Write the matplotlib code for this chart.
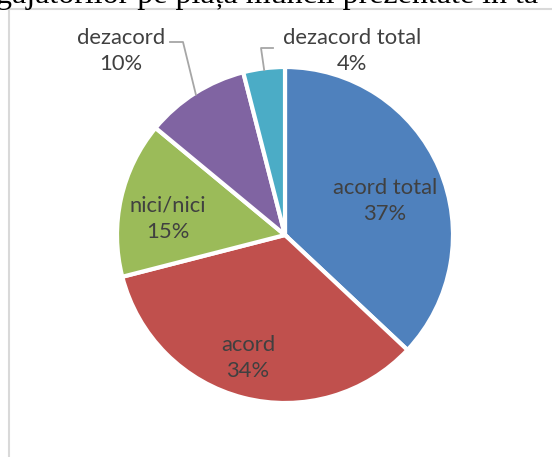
import numpy as np
import matplotlib.pyplot as plt
from matplotlib.patches import Rectangle

# data
categories = ['acord total', 'acord', 'nici/nici', 'dezacord', 'dezacord total']
shares = [37, 34, 15, 10, 4]
colors = ['#4F81BD', '#C0504D', '#9BBB59', '#8064A2', '#4BACC6']
caption = 'gajatorilor pe piața muncii prezentate în ta'

W, H = 552, 457
fig = plt.figure(figsize=(W / 100, H / 100), dpi=100)
ax = fig.add_axes([0, 0, 1, 1])
ax.set_xlim(0, W)
ax.set_ylim(0, H)
ax.set_aspect('equal')
ax.axis('off')

cx, cy, R = 285, H - 235, 168

# chart frame (only left and top edges show)
ax.add_patch(Rectangle((9, -20), W + 40, H - 9 + 20, fill=False,
                       edgecolor='#d9d9d9', lw=1.5, zorder=0))

wedges, _ = ax.pie(shares, colors=colors, startangle=90, counterclock=False,
                   center=(cx, cy), radius=R,
                   wedgeprops=dict(edgecolor='white', linewidth=3))
ax.set_xlim(0, W)
ax.set_ylim(0, H)

font = ['Lato', 'DejaVu Sans']
tcol = '#404040'
fs = 15.8

# label centres, pixels from top-left
label_pos = [(385, 201), (248, 358), (168, 219), (121, 51), (352, 51)]
for i, (lx, ly) in enumerate(label_pos):
    ax.text(lx, H - ly, f'{categories[i]}\n{shares[i]}%', ha='center', va='center',
            fontsize=fs, color=tcol, family=font, linespacing=1.4)

# leader lines for the two small slices
def edge_point(w, k=1.0):
    ang = np.deg2rad((w.theta1 + w.theta2) / 2)
    return cx + k * R * np.cos(ang), cy + k * R * np.sin(ang)

ex, ey = edge_point(wedges[3], 0.99)
ax.plot([170, 183, ex], [H - 42, H - 42, ey], color='#a6a6a6', lw=1.3)

ex, ey = edge_point(wedges[4], 0.99)
ax.plot([273, 261, ex], [H - 48, H - 48, ey], color='#a6a6a6', lw=1.3)

# clipped caption line from the surrounding document
fig.text(-4 / W, 1 - 2.5 / H, caption, ha='left', va='baseline',
         fontsize=23, family='Liberation Serif', color='black')

fig.savefig('out.png', dpi=100)
